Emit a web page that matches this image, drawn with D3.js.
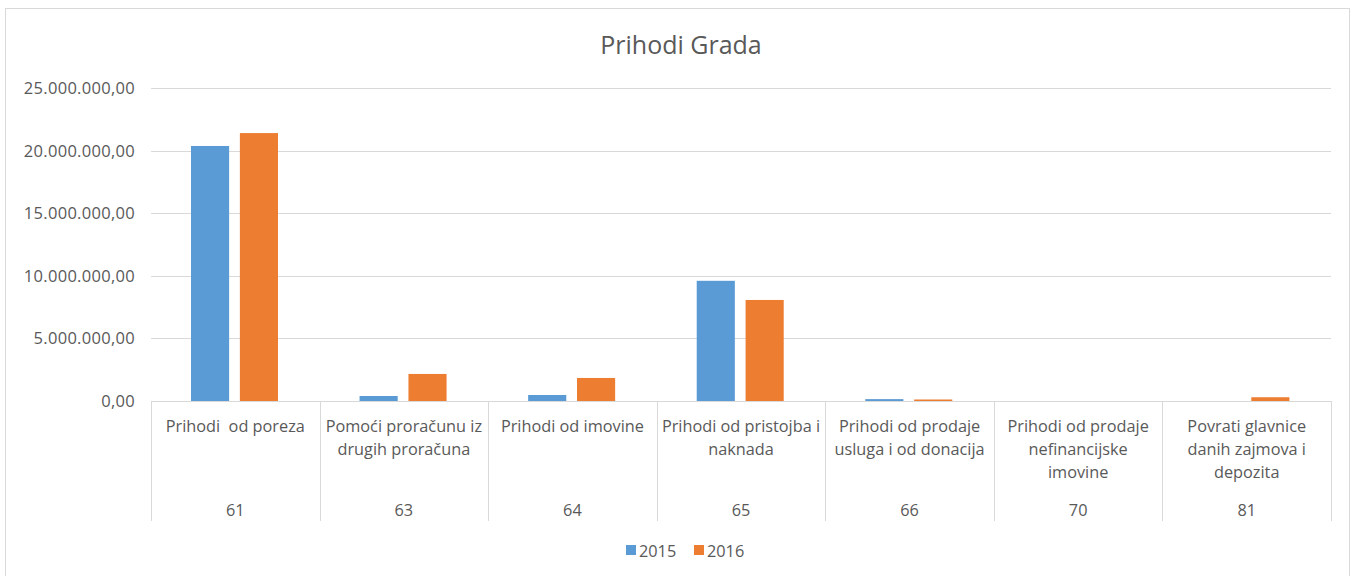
<!DOCTYPE html>
<head>
  <meta charset='utf-8'>
  <title>Prihodi Grada</title>
  <style>
    body { margin: 0; background: #fff; }
    svg text { font-family: "Open Sans", "Liberation Sans", sans-serif; fill: #595959; white-space: pre; }
  </style>
</head>
<body>
  <div id="chart"></div>
  <script src="https://cdnjs.cloudflare.com/ajax/libs/d3/7.8.5/d3.min.js"></script>
  <script>
    var codes = ["61", "63", "64", "65", "66", "70", "81"];
    var names = [
      ["Prihodi  od poreza"],
      ["Pomoći proračunu iz", "drugih proračuna"],
      ["Prihodi od imovine"],
      ["Prihodi od pristojba i", "naknada"],
      ["Prihodi od prodaje", "usluga i od donacija"],
      ["Prihodi od prodaje", "nefinancijske", "imovine"],
      ["Povrati glavnice", "danih zajmova i", "depozita"]
    ];
    var years = ["2015", "2016"];
    var v2015 = [20370000, 400000, 480000, 9600000, 150000, 0, 0];
    var v2016 = [21400000, 2160000, 1840000, 8070000, 120000, 0, 300000];
    var yTicks = [0, 5000000, 10000000, 15000000, 20000000, 25000000];
    var colors = ["#5b9bd5", "#ed7d31"];

    var width = 1354, height = 576;
    var plotLeft = 151, plotRight = 1331, plotTop = 88, plotBase = 401;

    var svg = d3.select("#chart").append("svg")
        .attr("width", width)
        .attr("height", height);

    svg.append("rect")
        .attr("x", 5.5).attr("y", 8.5)
        .attr("width", 1344).attr("height", 580)
        .attr("fill", "none").attr("stroke", "#d9d9d9");

    svg.append("text")
        .attr("x", 681).attr("y", 54)
        .attr("text-anchor", "middle")
        .style("font-size", "25px")
        .text("Prihodi Grada");

    var y = d3.scaleLinear().domain([0, 25000000]).range([plotBase, plotTop]);
    var x = d3.scaleBand().domain(codes).range([plotLeft, plotRight]);
    var xs = d3.scaleBand().domain(years).range([40, 127]).paddingInner(0.22);

    var fmt = function(d) {
      var s = d3.format(",.2f")(d);
      return s.replace(/,/g, "#").replace(".", ",").replace(/#/g, ".");
    };

    var grid = svg.append("g");
    grid.selectAll("line")
        .data(yTicks)
      .enter().append("line")
        .attr("x1", plotLeft).attr("x2", plotRight)
        .attr("y1", function(d) { return Math.round(y(d)) + 0.5; })
        .attr("y2", function(d) { return Math.round(y(d)) + 0.5; })
        .attr("stroke", "#d9d9d9");
    grid.selectAll("text")
        .data(yTicks)
      .enter().append("text")
        .attr("x", 135)
        .attr("y", function(d) { return y(d) + 6; })
        .attr("text-anchor", "end")
        .style("font-size", "16.5px")
        .style("letter-spacing", "0.3px")
        .text(fmt);

    var series = [v2015, v2016];
    series.forEach(function(vals, si) {
      svg.append("g").selectAll("rect")
          .data(vals)
        .enter().append("rect")
          .attr("x", function(d, i) { return x(codes[i]) + xs(years[si]); })
          .attr("width", xs.bandwidth())
          .attr("y", function(d) { return y(d); })
          .attr("height", function(d) { return plotBase - y(d); })
          .attr("fill", colors[si]);
    });

    // category axis with boxes
    var ax = svg.append("g");
    ax.selectAll("line.v")
        .data(codes.concat(["end"]))
      .enter().append("line")
        .attr("class", "v")
        .attr("x1", function(d, i) { return Math.round(plotLeft + i * x.bandwidth()) + 0.5; })
        .attr("x2", function(d, i) { return Math.round(plotLeft + i * x.bandwidth()) + 0.5; })
        .attr("y1", plotBase).attr("y2", 521)
        .attr("stroke", "#d9d9d9");
    ax.append("line")
        .attr("x1", plotLeft).attr("x2", plotRight)
        .attr("y1", plotBase + 0.5).attr("y2", plotBase + 0.5)
        .attr("stroke", "#d9d9d9");

    codes.forEach(function(c, i) {
      var cx = x(c) + x.bandwidth() / 2;
      names[i].forEach(function(line, j) {
        ax.append("text")
            .attr("x", cx).attr("y", 432 + j * 23)
            .attr("text-anchor", "middle")
            .style("font-size", "16.3px")
            .text(line);
      });
      ax.append("text")
          .attr("x", cx).attr("y", 516)
          .attr("text-anchor", "middle")
          .style("font-size", "16.3px")
          .text(c);
    });

    var legend = svg.append("g");
    var lx = [626, 694];
    years.forEach(function(yr, i) {
      legend.append("rect")
          .attr("x", lx[i]).attr("y", 545)
          .attr("width", 10).attr("height", 10)
          .attr("fill", colors[i]);
      legend.append("text")
          .attr("x", lx[i] + 13).attr("y", 557)
          .style("font-size", "16.3px")
          .text(yr);
    });
  </script>
</body>
